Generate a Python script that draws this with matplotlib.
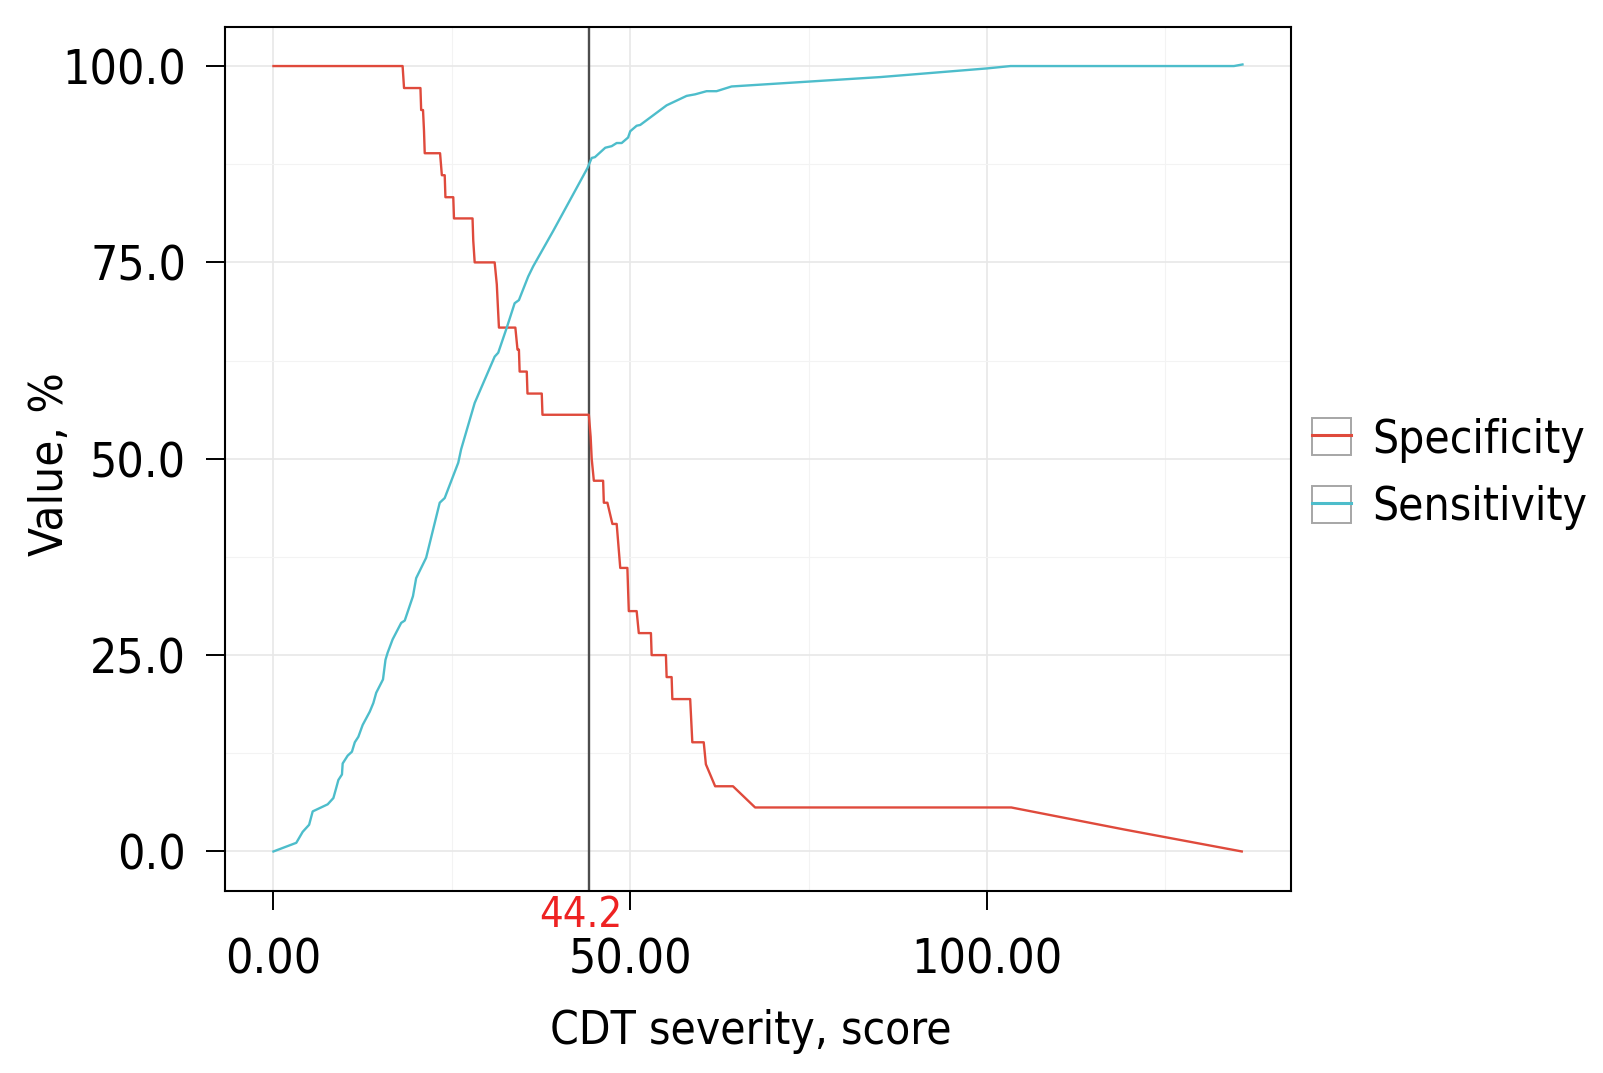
"""Specificity / sensitivity vs CDT severity cut-off, with the chosen cut-off marked."""

import matplotlib

matplotlib.use("Agg")
import matplotlib.pyplot as plt
from matplotlib.legend_handler import HandlerTuple
from matplotlib.lines import Line2D
from matplotlib.patches import Rectangle
from matplotlib.transforms import blended_transform_factory

CUTOFF = 44.2

# specificity (%) at each cut-off
spec_x = [0, 18.1, 18.3, 20.6, 20.7, 20.96, 21.1, 21.2, 23.35, 23.6, 24.0, 24.1,
          25.2, 25.3, 27.9, 28.0, 28.2, 31.0, 31.3, 31.45, 31.6, 33.9, 34.2, 34.4,
          34.5, 35.5, 35.6, 37.6, 37.7, 44.2, 44.45, 44.6, 44.9, 46.2, 46.3, 46.8,
          47.5, 48.1, 48.6, 49.6, 49.7, 49.8, 50.9, 51.2, 52.9, 53.0, 55.0, 55.1,
          55.8, 55.9, 58.4, 58.7, 60.3, 60.6, 61.9, 64.4, 67.5, 103.4, 119.2, 135.7]
spec_y = [100, 100, 97.2, 97.2, 94.4, 94.4, 91.7, 88.9, 88.9, 86.1, 86.1, 83.3,
          83.3, 80.6, 80.6, 77.8, 75.0, 75.0, 72.2, 69.4, 66.7, 66.7, 63.9, 63.9,
          61.1, 61.1, 58.3, 58.3, 55.6, 55.6, 52.8, 50.0, 47.2, 47.2, 44.4, 44.4,
          41.7, 41.7, 36.1, 36.1, 33.3, 30.6, 30.6, 27.8, 27.8, 25.0, 25.0, 22.2,
          22.2, 19.4, 19.4, 13.9, 13.9, 11.1, 8.3, 8.3, 5.6, 5.6, 2.8, 0.0]

# sensitivity (%) at each cut-off
sens_x = [0, 3.2, 4.1, 5.0, 5.5, 7.6, 8.4, 8.8, 9.1, 9.6, 9.7, 10.4, 11.0, 11.4,
          11.9, 12.5, 13.5, 14.0, 14.4, 15.35, 15.7, 16.0, 16.7, 17.9, 18.4, 19.55,
          20.0, 20.7, 21.4, 23.3, 24.0, 25.9, 26.3, 28.2, 31.0, 31.5, 32.7, 33.8,
          34.4, 35.7, 36.4, 39.2, 44.0, 44.6, 45.05, 46.5, 47.4, 48.1, 48.8, 49.7,
          50.0, 50.9, 51.4, 55.1, 57.9, 59.1, 60.7, 62.1, 64.2, 85.1, 100.0, 103.3,
          134.6, 135.8]
sens_y = [0, 1.1, 2.5, 3.4, 5.1, 6.0, 6.8, 8.1, 9.1, 9.8, 11.2, 12.2, 12.7, 13.9,
          14.6, 16.1, 17.8, 18.9, 20.2, 21.9, 24.4, 25.3, 27.0, 29.1, 29.4, 32.5,
          34.8, 36.1, 37.4, 44.4, 45.0, 49.5, 51.2, 57.1, 63.0, 63.5, 66.7, 69.8,
          70.2, 73.2, 74.5, 79.0, 87.0, 88.3, 88.4, 89.6, 89.8, 90.2, 90.2, 90.9,
          91.7, 92.4, 92.5, 95.0, 96.2, 96.4, 96.8, 96.8, 97.4, 98.6, 99.7, 100.0,
          100.0, 100.2]

x_ticks = [0, 50, 100]
x_labels = ["0.00", "50.00", "100.00"]
y_ticks = [0, 25, 50, 75, 100]
y_labels = ["0.0", "25.0", "50.0", "75.0", "100.0"]

RED = "#DF4A3C"
CYAN = "#4DBDCB"

plt.rcParams["font.family"] = ["DejaVu Sans"]
plt.rcParams["font.stretch"] = "condensed"

W, H = 1603, 1073
fig = plt.figure(figsize=(W / 100, H / 100), dpi=100)
# panel box in pixels: left 225, right 1291, top 26.7, bottom 890.8
ax = fig.add_axes([225 / W, 1 - 890.8 / H, (1291 - 225) / W, (890.8 - 26.7) / H])

ax.set_xlim(-6.79, 142.6)
ax.set_ylim(-5.01, 105.01)

ax.set_xticks(x_ticks, x_labels)
ax.set_yticks(y_ticks, y_labels)
ax.set_xticks([25, 75, 125], minor=True)
ax.set_yticks([12.5, 37.5, 62.5, 87.5], minor=True)
ax.grid(True, which="major", color="#E8E8E8", lw=1.2)
ax.grid(True, which="minor", color="#F3F3F3", lw=0.8)
ax.set_axisbelow(True)
ax.tick_params(which="minor", length=0)
ax.tick_params(axis="both", which="major", length=14, width=1.4, color="black",
               labelsize=34.5)
ax.tick_params(axis="x", pad=19)
ax.tick_params(axis="y", pad=14)
for sp in ax.spines.values():
    sp.set_linewidth(1.5)
    sp.set_color("black")

ax.axvline(CUTOFF, color="#4D4D4D", lw=1.7, zorder=2)
ax.plot(spec_x, spec_y, color=RED, lw=1.7, zorder=3)
ax.plot(sens_x, sens_y, color=CYAN, lw=1.7, zorder=3)

trans = blended_transform_factory(ax.transData, ax.transAxes)
ax.annotate(f"{CUTOFF}", xy=(CUTOFF, 0), xycoords=trans, xytext=(-6, -2),
            textcoords="offset points", ha="center", va="top", color="#EE2222",
            fontsize=30, annotation_clip=False)

ax.set_xlabel("CDT severity, score", fontsize=33)
ax.xaxis.set_label_coords(0.493, -0.1363)
ax.set_ylabel("Value, %", fontsize=34)
ax.yaxis.set_label_coords(-0.1426, 0.494)

handles = []
for colour in (RED, CYAN):
    box = Rectangle((0, 0), 1, 1, facecolor="white", edgecolor="#A6A6A6", lw=1.4)
    handles.append((box, Line2D([], [], color=colour, lw=2.2)))
fig.legend(handles, ["Specificity", "Sensitivity"],
           handler_map={tuple: HandlerTuple(ndivide=1, pad=0)},
           loc="center left", bbox_to_anchor=(1312.3 / W, 1 - 474 / H),
           frameon=False, fontsize=33, borderpad=0, borderaxespad=0,
           handlelength=0.85, handleheight=0.88, handletextpad=0.45,
           labelspacing=0.5)

fig.savefig("out.png", dpi=100)
